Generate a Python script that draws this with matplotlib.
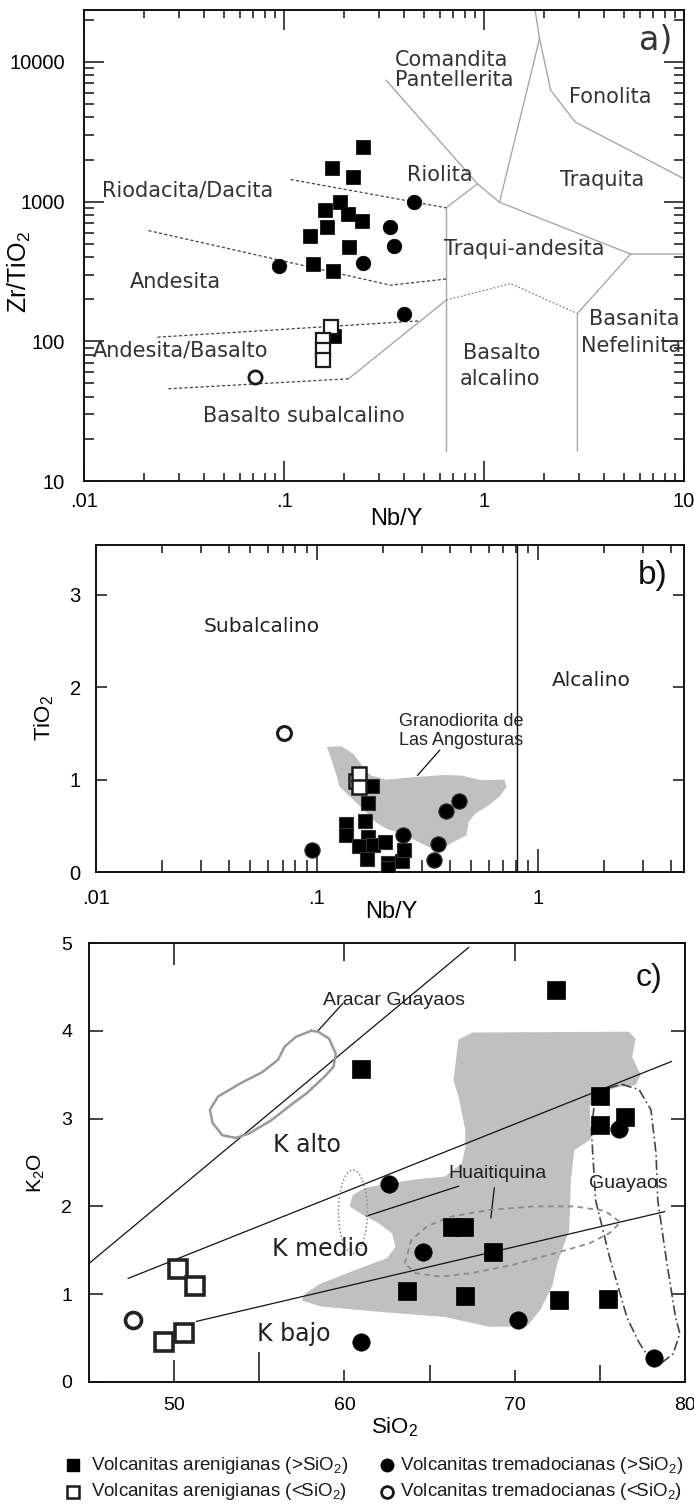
import matplotlib
matplotlib.use('Agg')
import matplotlib.pyplot as plt
import numpy as np
from matplotlib.ticker import FixedLocator, FixedFormatter, LogLocator, NullFormatter, NullLocator
from matplotlib.patches import Ellipse

plt.rcParams['font.family'] = ['Liberation Sans', 'DejaVu Sans']
plt.rcParams['mathtext.fontset'] = 'custom'
plt.rcParams['mathtext.rm'] = 'Liberation Sans'
plt.rcParams['mathtext.it'] = 'Liberation Sans:italic'
plt.rcParams['mathtext.bf'] = 'Liberation Sans:bold'
plt.rcParams['mathtext.default'] = 'rm'

# ---------------- DATA: panel a (Zr/TiO2 vs Nb/Y) ----------------
a_sq_hi_x = [0.249, 0.174, 0.221, 0.190, 0.161, 0.210, 0.245, 0.165, 0.135, 0.212, 0.139, 0.175, 0.178]
a_sq_hi_y = [2450, 1745, 1496, 988, 871, 815, 731, 655, 570, 470, 357, 320, 109]
a_sq_lo_x = [0.171, 0.157, 0.157, 0.157]
a_sq_lo_y = [127, 102, 86, 74]
a_ci_hi_x = [0.446, 0.338, 0.356, 0.249, 0.094, 0.398]
a_ci_hi_y = [988, 655, 483, 361, 347, 158]
a_ci_lo_x = [0.0718]
a_ci_lo_y = [55.5]

# field boundaries (solid grey)
a_b1_x = [0.324, 0.927, 1.196, 5.41, 10]
a_b1_y = [7386, 1340, 988, 421, 421]
a_b2_x = [0.647, 0.927]
a_b2_y = [902, 1340]
a_b3_x = [1.196, 1.896, 1.80]
a_b3_y = [988, 14700, 23500]
a_b4_x = [1.896, 2.154, 2.856, 10]
a_b4_y = [14700, 6270, 3710, 1456]
a_b5_x = [0.647, 0.647]
a_b5_y = [902, 16.5]
a_b6_x = [5.41, 2.93, 2.93]
a_b6_y = [421, 158, 16.5]
a_b7_x = [0.210, 0.647]
a_b7_y = [53.9, 197]
# dotted grey
a_dot_x = [0.647, 1.36, 2.93]
a_dot_y = [197, 259, 158]
# dashed dark
a_d1_x = [0.108, 0.647]
a_d1_y = [1439, 902]
a_d2_x = [0.0210, 0.341, 0.647]
a_d2_y = [620, 252, 279]
a_d3_x = [0.0233, 0.476]
a_d3_y = [107, 140]
a_d4_x = [0.0264, 0.210]
a_d4_y = [45.7, 53.9]

a_labels = ["Riolita", "Traquita", "Fonolita", "Riodacita/Dacita", "Traqui-andesita",
            "Andesita", "Andesita/Basalto", "Basalto", "alcalino", "Basalto subalcalino"]
a_lab_x = [0.60, 3.88, 4.3, 0.0328, 1.585, 0.0286, 0.0303, 1.228, 1.2, 0.126]
a_lab_y = [1538, 1416, 5610, 1199, 457, 267, 85.3, 83, 53.3, 29.1]
a_left_labels = ["Comandita", "Pantellerita"]
a_left_x = [0.36, 0.36]
a_left_y = [10280, 7390]
a_rt_labels = ["Basanita", "Nefelinita"]
a_rt_x = [5.64, 5.41]
a_rt_y = [144, 92.7]

# ---------------- DATA: panel b (TiO2 vs Nb/Y) ----------------
b_sq_hi_x = [0.135, 0.135, 0.165, 0.170, 0.156, 0.180, 0.168, 0.204, 0.211, 0.211, 0.243, 0.248, 0.170, 0.178]
b_sq_hi_y = [0.52, 0.40, 0.55, 0.38, 0.28, 0.29, 0.14, 0.32, 0.10, 0.04, 0.12, 0.24, 0.75, 0.93]
b_sq_lo_x = [0.150, 0.155, 0.155]
b_sq_lo_y = [0.99, 1.06, 0.92]
b_ci_hi_x = [0.095, 0.245, 0.352, 0.339, 0.383, 0.44]
b_ci_hi_y = [0.235, 0.397, 0.307, 0.126, 0.657, 0.765]
b_ci_lo_x = [0.071]
b_ci_lo_y = [1.51]
b_div_x = [0.81, 0.81]
b_div_y = [0, 3.54]
b_poly_x = [0.111, 0.129, 0.146, 0.160, 0.175, 0.206, 0.260, 0.313, 0.377, 0.454, 0.560, 0.706,
            0.723, 0.674, 0.600, 0.522, 0.487, 0.476, 0.424, 0.369, 0.321, 0.279, 0.243, 0.206,
            0.184, 0.164, 0.142, 0.127, 0.122, 0.116]
b_poly_y = [1.354, 1.361, 1.282, 1.155, 1.047, 1.0, 1.022, 1.036, 1.051, 1.043, 0.993, 1.0,
            0.921, 0.819, 0.722, 0.632, 0.542, 0.397, 0.336, 0.253, 0.271, 0.343, 0.415, 0.469,
            0.542, 0.668, 0.812, 0.921, 1.065, 1.227]
b_lead_x = [0.36, 0.286]
b_lead_y = [1.318, 1.047]

# ---------------- DATA: panel c (K2O vs SiO2) ----------------
c_sq_hi_x = [72.4, 61.0, 75.0, 75.0, 76.5, 66.3, 67.0, 68.7, 63.7, 67.1, 72.6, 75.5]
c_sq_hi_y = [4.47, 3.57, 3.26, 2.93, 3.02, 1.76, 1.76, 1.48, 1.04, 0.98, 0.93, 0.95]
c_sq_lo_x = [50.2, 51.2, 50.6, 49.4]
c_sq_lo_y = [1.29, 1.09, 0.56, 0.46]
c_ci_hi_x = [62.6, 64.6, 70.2, 61.0, 78.2, 76.1]
c_ci_hi_y = [2.26, 1.48, 0.71, 0.45, 0.27, 2.88]
c_ci_lo_x = [47.6]
c_ci_lo_y = [0.71]

c_l1_x = [45, 67.3]
c_l1_y = [1.35, 4.95]
c_l2_x = [47.3, 79.2]
c_l2_y = [1.18, 3.65]
c_l3_x = [51.3, 78.8]
c_l3_y = [0.69, 1.94]
c_lead1_x = [61.3, 66.7]
c_lead1_y = [1.89, 2.23]
c_lead2_x = [68.8, 68.6]
c_lead2_y = [2.21, 1.87]
c_lead3_x = [58.4, 59.9]
c_lead3_y = [3.99, 4.31]

c_arac_x = [58.05, 58.45, 59.10, 59.49, 59.36, 58.84, 57.79, 56.75, 55.70, 54.40, 53.62, 52.83,
            52.26, 52.10, 52.57, 53.88, 55.18, 56.10, 56.49, 57.14, 58.05]
c_arac_y = [4.00, 3.99, 3.91, 3.74, 3.59, 3.48, 3.29, 3.14, 2.98, 2.83, 2.78, 2.81,
            2.95, 3.10, 3.25, 3.40, 3.53, 3.67, 3.82, 3.93, 4.00]

c_poly_x = [66.5, 66.7, 67.5, 76.7, 77.1, 76.9, 77.4, 77.1, 76.1, 74.8, 74.4, 74.5, 73.5, 73.3,
            73.2, 72.5, 72.2, 71.5, 70.7, 68.5, 65.9, 62.0, 58.6, 57.5, 57.7, 58.6, 60.7, 62.5,
            63.0, 62.8, 62.0, 61.1, 60.3, 60.5, 61.2, 62.5, 64.3, 65.9, 66.9, 67.1, 67.1, 66.7, 66.4]
c_poly_y = [3.59, 3.90, 3.98, 3.99, 3.91, 3.70, 3.50, 3.38, 3.36, 3.29, 3.14, 2.77, 2.64, 2.30,
            1.73, 1.35, 1.09, 0.82, 0.63, 0.63, 0.74, 0.80, 0.86, 0.93, 1.01, 1.12, 1.28, 1.41,
            1.54, 1.69, 1.81, 1.90, 2.00, 2.13, 2.21, 2.26, 2.31, 2.34, 2.49, 2.68, 2.87, 3.25, 3.44]

c_huai_x = [63.54, 63.93, 64.84, 66.15, 68.50, 71.11, 73.46, 75.3, 76.2, 75.6, 74.4, 72.42,
            69.80, 67.45, 65.63, 64.19, 63.54]
c_huai_y = [1.35, 1.62, 1.77, 1.88, 1.96, 2.00, 2.00, 1.95, 1.82, 1.70, 1.58, 1.47,
            1.33, 1.24, 1.20, 1.24, 1.35]

c_guay_x = [76.3, 77.3, 78.0, 78.3, 78.4, 78.9, 79.45, 79.7, 79.3, 78.5, 77.9, 77.3, 76.6,
            75.6, 74.75, 74.5, 74.7, 75.3, 76.3]
c_guay_y = [3.39, 3.33, 3.10, 2.60, 2.07, 1.40, 0.73, 0.55, 0.32, 0.20, 0.27, 0.45, 0.73,
            1.40, 2.07, 2.87, 3.20, 3.34, 3.39]

c_smallell_center = (60.5, 1.94)
c_smallell_w = 1.7
c_smallell_h = 0.95

c_labels = ["K alto", "K medio", "K bajo"]
c_lab_x = [57.8, 58.6, 57.0]
c_lab_y = [2.70, 1.52, 0.55]
c_names = ["Aracar Guayaos", "Huaitiquina", "Guayaos"]
c_names_x = [62.9, 69.0, 76.7]
c_names_y = [4.35, 2.38, 2.26]

leg_labels = ['Volcanitas arenigianas (>SiO$_2$)', 'Volcanitas tremadocianas (>SiO$_2$)',
              'Volcanitas arenigianas (<SiO$_2$)', 'Volcanitas tremadocianas (<SiO$_2$)']

# ---------------- FIGURE ----------------
W, H = 694, 1505
fig = plt.figure(figsize=(W / 100, H / 100), dpi=100)


def px_axes(left, top, right, bottom):
    return fig.add_axes([left / W, 1 - bottom / H, (right - left) / W, (bottom - top) / H])


axa = px_axes(84, 10, 684, 481)
axb = px_axes(96, 545, 684, 872)
axc = px_axes(89, 943, 685, 1382)

BLK = '#111111'
GRY = '#a8a8a8'
FILL = '#c0c0c0'
TXT = '#333333'

for ax in (axa, axb, axc):
    for s in ax.spines.values():
        s.set_linewidth(1.4)
        s.set_color(BLK)

# ---------- panel a ----------
axa.set_xscale('log')
axa.set_yscale('log')
axa.set_xlim(0.01, 10)
axa.set_ylim(10, 23500)

for xs, ys in [(a_b1_x, a_b1_y), (a_b2_x, a_b2_y), (a_b3_x, a_b3_y), (a_b4_x, a_b4_y),
               (a_b5_x, a_b5_y), (a_b6_x, a_b6_y), (a_b7_x, a_b7_y)]:
    axa.plot(xs, ys, color=GRY, lw=1.0, zorder=1)
axa.plot(a_dot_x, a_dot_y, color='#888888', lw=0.9, ls=(0, (1.5, 1.5)), zorder=1)
for xs, ys in [(a_d1_x, a_d1_y), (a_d2_x, a_d2_y), (a_d3_x, a_d3_y), (a_d4_x, a_d4_y)]:
    axa.plot(xs, ys, color='#444444', lw=0.9, ls=(0, (2.5, 1.8)), zorder=1)

for t, x, y in zip(a_labels, a_lab_x, a_lab_y):
    axa.text(x, y, t, ha='center', va='center', fontsize=15, color=TXT, family='DejaVu Sans')
for t, x, y in zip(a_left_labels, a_left_x, a_left_y):
    axa.text(x, y, t, ha='left', va='center', fontsize=15, color=TXT, family='DejaVu Sans')
for t, x, y in zip(a_rt_labels, a_rt_x, a_rt_y):
    axa.text(x, y, t, ha='center', va='center', fontsize=15, color=TXT, family='DejaVu Sans')

axa.plot(a_sq_hi_x, a_sq_hi_y, 's', ms=10.5, mfc='black', mec='black', mew=0.5, ls='none', zorder=3)
axa.plot(a_ci_hi_x, a_ci_hi_y, 'o', ms=10.5, mfc='black', mec='black', mew=0.5, ls='none', zorder=3)
axa.plot(a_sq_lo_x, a_sq_lo_y, 's', ms=9.5, mfc='white', mec='#1a1a1a', mew=1.6, ls='none', zorder=4)
axa.plot(a_ci_lo_x, a_ci_lo_y, 'o', ms=9.5, mfc='white', mec='#1a1a1a', mew=2.0, ls='none', zorder=4)

axa.text(0.952, 0.936, 'a)', transform=axa.transAxes, ha='center', va='center',
         fontsize=24, color=TXT, family='DejaVu Sans')

axa.xaxis.set_major_locator(FixedLocator([0.01, 0.1, 1, 10]))
axa.xaxis.set_major_formatter(FixedFormatter(['.01', '.1', '1', '10']))
axa.xaxis.set_minor_locator(LogLocator(base=10, subs=np.arange(2, 10), numticks=100))
axa.xaxis.set_minor_formatter(NullFormatter())
axa.yaxis.set_major_locator(FixedLocator([10, 100, 1000, 10000]))
axa.yaxis.set_major_formatter(FixedFormatter(['10', '100', '1000', '10000']))
axa.yaxis.set_minor_locator(LogLocator(base=10, subs=np.arange(2, 10), numticks=100))
axa.yaxis.set_minor_formatter(NullFormatter())
axa.tick_params(which='both', direction='in', top=True, right=True, width=1.1, color=BLK)
axa.tick_params(axis='x', which='major', length=14.5, pad=8, labelsize=14.5)
axa.tick_params(axis='x', which='minor', length=6)
axa.tick_params(axis='y', which='major', length=14.5, pad=13.5, labelsize=14.5)
axa.tick_params(axis='y', which='minor', length=7.5)

axa.set_xlabel('Nb/Y', fontsize=17)
axa.xaxis.set_label_coords(0.52, -0.081)
axa.xaxis.label.set_va('center')
axa.set_ylabel('Zr/TiO$_2$', fontsize=18)
axa.yaxis.set_label_coords(-0.107, 0.444)
axa.yaxis.label.set_va('center')

# ---------- panel b ----------
axb.set_xscale('log')
axb.set_xlim(0.01, 4.6)
axb.set_ylim(0, 3.54)
axb.fill(b_poly_x, b_poly_y, color=FILL, lw=0, zorder=0)
axb.plot(b_div_x, b_div_y, color=BLK, lw=1.0, zorder=1)
axb.plot(b_lead_x, b_lead_y, color=BLK, lw=0.9, zorder=1)
axb.text(0.0562, 2.66, 'Subalcalino', ha='center', va='center', fontsize=14.5, color='#222222',
         family='DejaVu Sans')
axb.text(1.745, 2.07, 'Alcalino', ha='center', va='center', fontsize=14.5, color='#222222',
         family='DejaVu Sans')
axb.text(0.235, 1.53, 'Granodiorita de\nLas Angosturas', ha='left', va='center', fontsize=13,
         color='#222222', linespacing=1.15)

axb.plot(b_sq_hi_x, b_sq_hi_y, 's', ms=10.5, mfc='black', mec='#333333', mew=0.8, ls='none', zorder=3)
axb.plot(b_ci_hi_x, b_ci_hi_y, 'o', ms=11, mfc='black', mec='#333333', mew=0.8, ls='none', zorder=3)
axb.plot(b_sq_lo_x, b_sq_lo_y, 's', ms=10, mfc='white', mec='#1a1a1a', mew=1.8, ls='none', zorder=4)
axb.plot(b_ci_lo_x, b_ci_lo_y, 'o', ms=10, mfc='white', mec='#1a1a1a', mew=2.2, ls='none', zorder=4)

axb.text(0.947, 0.908, 'b)', transform=axb.transAxes, ha='center', va='center', fontsize=24, color=BLK)

axb.xaxis.set_major_locator(FixedLocator([0.01, 0.1, 1]))
axb.xaxis.set_major_formatter(FixedFormatter(['.01', '.1', '1']))
axb.xaxis.set_minor_locator(LogLocator(base=10, subs=np.arange(2, 10), numticks=100))
axb.xaxis.set_minor_formatter(NullFormatter())
axb.yaxis.set_major_locator(FixedLocator([0, 1, 2, 3]))
axb.yaxis.set_major_formatter(FixedFormatter(['0', '1', '2', '3']))
axb.yaxis.set_minor_locator(NullLocator())
axb.tick_params(which='both', direction='in', top=True, right=True, width=1.1, color=BLK)
axb.tick_params(axis='x', which='major', length=16.5, pad=12, labelsize=14.5)
axb.tick_params(axis='x', which='minor', length=8.5)
axb.tick_params(axis='y', which='major', length=8, pad=11, labelsize=14.5)
axb.set_xlabel('Nb/Y', fontsize=17)
axb.xaxis.set_label_coords(0.502, -0.122)
axb.xaxis.label.set_va('center')
axb.set_ylabel('TiO$_2$', fontsize=16)
axb.yaxis.set_label_coords(-0.088, 0.47)
axb.yaxis.label.set_va('center')

# ---------- panel c ----------
axc.set_xlim(45, 80)
axc.set_ylim(0, 5)
axc.fill(c_poly_x, c_poly_y, color=FILL, lw=0, zorder=0)
for xs, ys in [(c_l1_x, c_l1_y), (c_l2_x, c_l2_y), (c_l3_x, c_l3_y),
               (c_lead1_x, c_lead1_y), (c_lead2_x, c_lead2_y), (c_lead3_x, c_lead3_y)]:
    axc.plot(xs, ys, color=BLK, lw=0.9, zorder=2)
axc.plot(c_arac_x, c_arac_y, color='#9a9a9a', lw=1.8, zorder=2)
axc.plot(c_huai_x, c_huai_y, color='#8a8a8a', lw=1.3, ls=(0, (3, 2.5)), zorder=2)
axc.plot(c_guay_x, c_guay_y, color='#444444', lw=1.2, ls=(0, (6, 2, 1, 2)), zorder=2)
axc.add_patch(Ellipse(c_smallell_center, c_smallell_w, c_smallell_h, fill=False, ec='#8a8a8a',
                      lw=1.1, ls=(0, (1, 1.5)), zorder=2))

for t, x, y in zip(c_labels, c_lab_x, c_lab_y):
    axc.text(x, y, t, ha='center', va='center', fontsize=17, color='#222222', family='DejaVu Sans')
for t, x, y in zip(c_names, c_names_x, c_names_y):
    axc.text(x, y, t, ha='center', va='center', fontsize=14, color='#222222')

axc.plot(c_sq_hi_x, c_sq_hi_y, 's', ms=13.5, mfc='black', mec='black', mew=0.5, ls='none', zorder=3)
axc.plot(c_ci_hi_x, c_ci_hi_y, 'o', ms=12.5, mfc='black', mec='black', mew=0.5, ls='none', zorder=3)
axc.plot(c_sq_lo_x, c_sq_lo_y, 's', ms=13, mfc='white', mec='#222222', mew=2.6, ls='none', zorder=4)
axc.plot(c_ci_lo_x, c_ci_lo_y, 'o', ms=11.5, mfc='white', mec='#222222', mew=2.6, ls='none', zorder=4)

axc.text(0.94, 0.92, 'c)', transform=axc.transAxes, ha='center', va='center', fontsize=23, color=BLK)

axc.xaxis.set_major_locator(FixedLocator([50, 60, 70, 80]))
axc.xaxis.set_major_formatter(FixedFormatter(['50', '60', '70', '80']))
axc.xaxis.set_minor_locator(FixedLocator([55, 65, 75]))
axc.yaxis.set_major_locator(FixedLocator([0, 1, 2, 3, 4, 5]))
axc.yaxis.set_major_formatter(FixedFormatter(['0', '1', '2', '3', '4', '5']))
axc.tick_params(which='both', direction='in', top=True, right=True, width=1.1, color=BLK)
axc.tick_params(axis='x', which='minor', top=False)
axc.tick_params(axis='x', which='major', length=10, pad=11, labelsize=14)
axc.tick_params(axis='y', which='major', length=10, pad=12, labelsize=14)
axc.set_xlabel('SiO$_2$', fontsize=16)
axc.xaxis.set_label_coords(0.513, -0.103)
axc.xaxis.label.set_va('center')
axc.set_ylabel('K$_2$O', fontsize=15)
axc.yaxis.set_label_coords(-0.089, 0.476)
axc.yaxis.label.set_va('center')

# per-tick lengths (top / bottom differ)
for t, Lb, Lt in zip(axc.xaxis.get_major_ticks(), [16, 9, 9, 0], [16, 13, 13, 0]):
    t.tick1line.set_markersize(Lb)
    t.tick2line.set_markersize(Lt)
for t, Lb in zip(axc.xaxis.get_minor_ticks(), [21.6, 12, 12]):
    t.tick1line.set_markersize(Lb)
for t in axb.xaxis.get_major_ticks():
    t.tick2line.set_markersize(11)
for t in axb.xaxis.get_minor_ticks():
    t.tick2line.set_markersize(6)

# ---------- legend ----------
axl = fig.add_axes([0, 0, 1, 70 / H])
axl.set_xlim(0, W)
axl.set_ylim(70, 0)
axl.axis('off')
leg_mx = [73, 387, 73, 387]
leg_my = [30, 30, 57, 57]
leg_tx = [91, 400, 91, 400]
axl.plot([leg_mx[0]], [leg_my[0]], 's', ms=9, mfc='black', mec='black', clip_on=False)
axl.plot([leg_mx[1]], [leg_my[1]], 'o', ms=9, mfc='black', mec='black', clip_on=False)
axl.plot([leg_mx[2]], [leg_my[2]], 's', ms=8.5, mfc='white', mec='#1a1a1a', mew=1.8, clip_on=False)
axl.plot([leg_mx[3]], [leg_my[3]], 'o', ms=8.5, mfc='white', mec='#1a1a1a', mew=2.0, clip_on=False)
for t, x, y in zip(leg_labels, leg_tx, leg_my):
    axl.text(x, y, t, ha='left', va='center', fontsize=13.5, color='#1a1a1a')

fig.savefig('out.png', dpi=100)
